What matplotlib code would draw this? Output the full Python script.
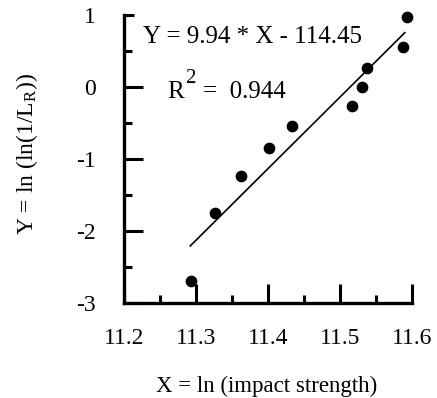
import matplotlib
matplotlib.use("Agg")
import matplotlib.pyplot as plt
import numpy as np

plt.rcParams['font.family'] = ['Liberation Serif', 'DejaVu Serif']
plt.rcParams['mathtext.fontset'] = 'custom'
plt.rcParams['mathtext.rm'] = 'Liberation Serif'
plt.rcParams['mathtext.it'] = 'Liberation Serif:italic'

x_vals = [11.293, 11.326, 11.363, 11.401, 11.434, 11.516, 11.530, 11.537, 11.587, 11.593]
y_vals = [-2.69, -1.746, -1.232, -0.852, -0.542, -0.264, 0.0, 0.264, 0.56, 0.968]
slope = 9.94
intercept = -114.45
fit_x = [11.292, 11.59]
x_ticks = [11.2, 11.3, 11.4, 11.5, 11.6]
y_ticks = [-3, -2, -1, 0, 1]

W, H = 437, 398
fig = plt.figure(figsize=(W/100, H/100), dpi=100)
ax = fig.add_axes([124/W, 1-303/H, (412-124)/W, (303-15)/H])

ax.scatter(x_vals, y_vals, s=55, color='black', zorder=3, clip_on=False)
fx = np.array(fit_x)
ax.plot(fx, slope*fx + intercept, color='black', lw=1.2)

ax.set_xlim(11.2, 11.6)
ax.set_ylim(-3, 1)
ax.set_xticks(x_ticks)
ax.set_xticklabels([f"{v:.1f}" for v in x_ticks])
ax.set_yticks(y_ticks)
ax.set_yticklabels([str(v) for v in y_ticks])
ax.set_xticks(np.arange(11.25, 11.6, 0.1), minor=True)
ax.set_yticks(np.arange(-2.5, 1, 1.0), minor=True)

for s in ['top', 'right']:
    ax.spines[s].set_visible(False)
for s in ['left', 'bottom']:
    ax.spines[s].set_linewidth(2.4)

ax.tick_params(which='major', direction='in', length=13.5, width=2.2, labelsize=17, pad=18)
ax.tick_params(which='minor', direction='in', length=6, width=2.2)
ax.tick_params(axis='y', pad=20)
# shorter cap tick at top of y-axis, as in the reference
ax.yaxis.get_major_ticks()[-1].tick1line.set_markersize(7)

def px(x, y):
    return x / W, 1 - y / H

fig.text(*px(143, 43), "Y = 9.94 * X - 114.45", fontsize=18, va='baseline', ha='left')
fig.text(*px(167, 98), "R", fontsize=18, va='baseline', ha='left')
fig.text(*px(185, 83), "2", fontsize=15, va='baseline', ha='left')
fig.text(*px(203, 98), "=  0.944", fontsize=18, va='baseline', ha='left')

fig.text(*px(267, 386), "X = ln (impact strength)", fontsize=16.5, ha='center', va='center')
fig.text(*px(27, 154), r"Y = ln (ln(1/L$_{\mathrm{R}}$))", fontsize=17, ha='center', va='center', rotation=90)

fig.savefig("out.png", dpi=100)
